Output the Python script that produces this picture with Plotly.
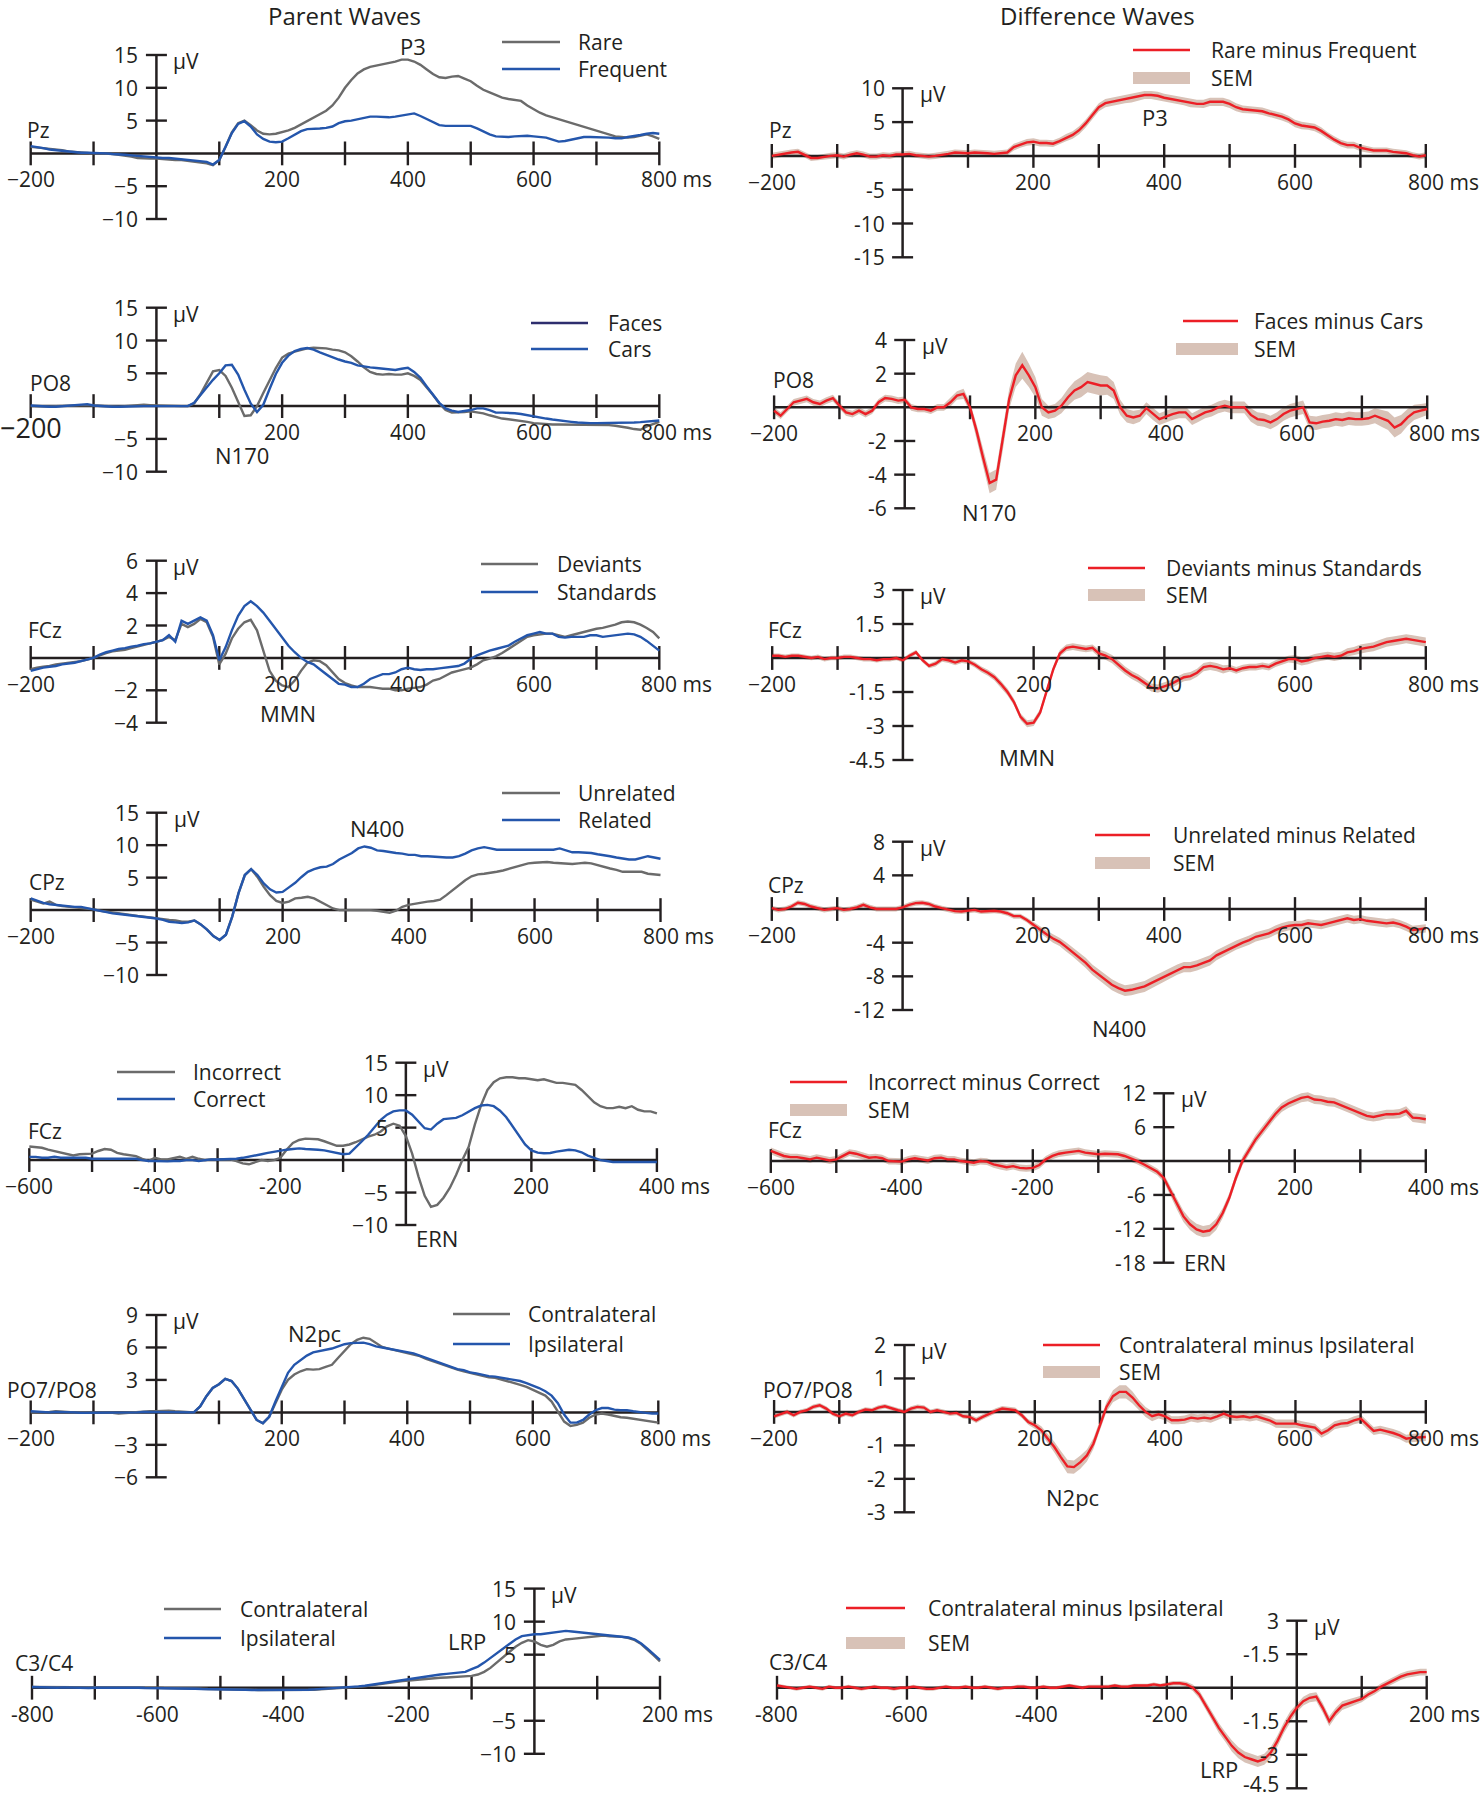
import plotly.graph_objects as go

W, H = 1483, 1800
FONT = "Open Sans, Noto Sans, Liberation Sans, Arial, sans-serif"
INK = "#231f20"
GRAY = "#6b6b6b"
BLUE = "#2456ac"
NAVY = "#2e2e6e"
RED = "#ec1f26"
SEMC = "#d8c2b7"

# ---------------- time grids (ms) ----------------
t_std = list(range(-200, 801, 10))
t_ern = list(range(-600, 401, 10))
t_lrp = list(range(-800, 201, 10))

# ---------------- Row 1: P3 (Pz) ----------------
p3_rare = [
 1.0, 0.9, 0.9, 0.8, 0.7, 0.5, 0.3, 0.2, 0.1, 0.1,
 0.0, 0.0, 0.0, -0.1, -0.2, -0.3, -0.5, -0.7, -0.8, -0.8,
 -0.8, -0.9, -0.9, -1.0, -1.0, -1.1, -1.2, -1.3, -1.5, -1.8,
 -1.0, 1.0, 3.2, 4.6, 5.0, 4.3, 3.5, 3.0, 2.9, 3.0,
 3.2, 3.5, 3.9, 4.4, 5.0, 5.4, 5.9, 6.5, 7.3, 8.5,
 10.0, 11.2, 12.2, 12.8, 13.2, 13.4, 13.5, 13.7, 14.0, 14.3,
 14.3, 14.0, 13.5, 12.8, 12.1, 11.6, 11.5, 11.7, 11.8, 11.4,
 11.0, 10.3, 9.7, 9.3, 8.9, 8.5, 8.3, 8.1, 8.0, 7.3,
 6.7, 6.2, 5.8, 5.5, 5.3, 4.9, 4.6, 4.3, 4.0, 3.7,
 3.5, 3.2, 2.9, 2.6, 2.5, 2.4, 2.5, 2.7, 2.9, 2.6,
 2.2]
p3_frequent = [
 1.1, 1.0, 0.8, 0.6, 0.5, 0.35, 0.2, 0.1, 0.1, 0.1,
 0.1, 0.0, 0.0, -0.1, -0.1, -0.2, -0.3, -0.4, -0.5, -0.5,
 -0.6, -0.7, -0.7, -0.8, -0.8, -0.9, -1.0, -1.1, -1.3, -1.7,
 -1.0, 1.0, 3.1, 4.5, 4.9, 4.1, 2.9, 2.2, 1.8, 1.7,
 1.8, 2.3, 2.9, 3.4, 3.7, 3.7, 3.8, 3.9, 4.1, 4.6,
 4.9, 5.0, 5.2, 5.4, 5.6, 5.6, 5.5, 5.5, 5.6, 5.8,
 6.0, 6.1, 5.7, 5.2, 4.7, 4.3, 4.2, 4.2, 4.3, 4.2,
 4.2, 3.8, 3.3, 2.9, 2.6, 2.5, 2.5, 2.6, 2.7, 2.7,
 2.6, 2.5, 2.4, 2.1, 1.8, 1.9, 2.1, 2.3, 2.5, 2.5,
 2.5, 2.5, 2.4, 2.3, 2.3, 2.5, 2.6, 2.8, 3.0, 3.1,
 3.0]
p3_diff = [
 0.0, 0.2, 0.4, 0.5, 0.6, 0.2, -0.3, -0.3, -0.1, 0.0,
 0.1, -0.1, 0.2, 0.4, 0.2, -0.1, -0.1, 0.1, 0.0, 0.2,
 0.2, 0.3, 0.1, 0.0, -0.1, 0.0, 0.1, 0.3, 0.5, 0.4,
 0.4, 0.5, 0.5, 0.4, 0.3, 0.4, 0.5, 1.3, 1.7, 2.0,
 2.1, 1.9, 1.9, 1.8, 2.2, 2.7, 3.1, 3.8, 4.8, 6.0,
 7.2, 7.8, 8.0, 8.2, 8.4, 8.5, 8.7, 9.0, 9.0, 8.9,
 8.6, 8.4, 8.3, 8.1, 7.8, 7.7, 7.7, 8.0, 8.0, 8.0,
 7.7, 7.2, 6.9, 6.8, 6.8, 6.6, 6.3, 6.1, 5.8, 5.4,
 4.8, 4.5, 4.4, 4.2, 3.7, 3.0, 2.4, 1.9, 1.6, 1.6,
 1.2, 1.0, 0.8, 0.8, 0.8, 0.6, 0.5, 0.4, 0.1, -0.1,
 0.1]
p3_sem = [
 0.45, 0.45, 0.45, 0.45, 0.45, 0.45, 0.45, 0.45, 0.45, 0.45,
 0.45, 0.45, 0.45, 0.45, 0.45, 0.45, 0.45, 0.45, 0.45, 0.45,
 0.45, 0.45, 0.45, 0.45, 0.45, 0.45, 0.45, 0.45, 0.45, 0.45,
 0.45, 0.45, 0.45, 0.45, 0.45, 0.45, 0.45, 0.5, 0.5, 0.5,
 0.5, 0.5, 0.5, 0.5, 0.5, 0.55, 0.55, 0.6, 0.6, 0.6,
 0.6, 0.6, 0.6, 0.6, 0.6, 0.6, 0.6, 0.6, 0.6, 0.6,
 0.6, 0.6, 0.6, 0.6, 0.6, 0.6, 0.6, 0.6, 0.6, 0.6,
 0.6, 0.6, 0.55, 0.55, 0.55, 0.55, 0.55, 0.55, 0.55, 0.55,
 0.55, 0.55, 0.55, 0.55, 0.55, 0.5, 0.5, 0.5, 0.5, 0.5,
 0.5, 0.5, 0.45, 0.45, 0.45, 0.45, 0.45, 0.45, 0.45, 0.45,
 0.45]

# ---------------- Row 2: N170 (PO8) ----------------
n170_faces = [
 0.0, -0.05, -0.1, -0.05, 0.0, 0.05, 0.1, 0.15, 0.2, 0.15,
 0.1, 0.05, 0.0, -0.05, -0.1, 0.0, 0.1, 0.15, 0.2, 0.15,
 0.1, 0.05, 0.0, 0.0, 0.0, 0.0, 0.4, 1.8, 3.6, 5.3,
 5.5, 4.6, 2.8, 0.6, -1.5, -1.4, 0.0, 2.0, 4.0, 5.8,
 7.4, 8.0, 8.3, 8.6, 8.8, 8.9, 8.9, 8.8, 8.6, 8.5,
 8.2, 7.6, 6.8, 5.9, 5.2, 4.9, 4.8, 4.9, 4.8, 4.8,
 5.0, 4.6, 4.0, 2.9, 1.7, 0.4, -0.6, -1.0, -1.0, -0.9,
 -0.8, -0.9, -1.1, -1.4, -1.7, -1.9, -2.0, -2.1, -2.2, -2.4,
 -2.6, -2.7, -2.8, -2.8, -2.8, -2.8, -2.8, -2.8, -2.8, -2.8,
 -2.8, -2.8, -2.9, -3.0, -3.1, -3.3, -3.5, -3.6, -3.1, -2.7,
 -2.4]
n170_cars = [
 0.1, 0.0, -0.1, -0.1, -0.1, 0.0, 0.1, 0.2, 0.3, 0.3,
 0.1, 0.0, -0.1, -0.1, -0.1, -0.05, 0.0, 0.0, 0.0, 0.0,
 0.0, 0.0, 0.0, 0.05, 0.1, 0.0, 0.5, 1.7, 2.9, 4.0,
 5.0, 6.2, 6.3, 4.8, 2.5, 0.4, -0.9, 0.2, 2.6, 4.9,
 6.6, 7.7, 8.4, 8.7, 8.85, 8.6, 8.2, 7.8, 7.5, 7.1,
 6.8, 6.6, 6.2, 6.0, 5.9, 5.8, 5.7, 5.7, 5.5, 5.7,
 5.85, 5.2, 4.3, 3.0, 1.7, 0.5, -0.35, -0.7, -0.9, -0.8,
 -0.6, -0.35, -0.35, -0.6, -1.0, -1.0, -1.0, -1.1, -1.2, -1.4,
 -1.6, -1.75, -1.9, -2.05, -2.2, -2.3, -2.4, -2.5, -2.6, -2.6,
 -2.6, -2.6, -2.6, -2.6, -2.6, -2.55, -2.5, -2.45, -2.4, -2.3,
 -2.2]
n170_diff = [
 -0.2, -0.5, -0.1, 0.3, 0.4, 0.5, 0.3, 0.2, 0.4, 0.55,
 0.1, -0.3, -0.4, -0.2, -0.4, -0.2, 0.3, 0.55, 0.5, 0.4,
 0.45, 0.0, -0.1, -0.1, -0.2, 0.0, 0.0, 0.3, 0.7, 0.8,
 0.0, -1.4, -3.0, -4.5, -4.3, -2.0, 0.5, 1.9, 2.5, 1.9,
 1.2, 0.0, -0.3, -0.2, 0.1, 0.6, 1.0, 1.2, 1.5, 1.4,
 1.3, 1.3, 1.0, 0.0, -0.5, -0.6, -0.5, -0.05, -0.4, -0.7,
 -0.55, -0.4, -0.3, -0.3, -0.7, -0.5, -0.3, -0.2, 0.0, 0.1,
 0.0, 0.0, 0.0, -0.45, -0.7, -0.75, -0.9, -0.7, -0.4, -0.2,
 -0.1, 0.0, -0.9, -0.95, -0.85, -0.8, -0.7, -0.75, -0.65, -0.7,
 -0.7, -0.65, -0.5, -0.65, -0.8, -1.2, -1.0, -0.6, -0.3, -0.2,
 -0.1]
n170_sem = [
 0.2, 0.2, 0.2, 0.2, 0.2, 0.2, 0.2, 0.2, 0.2, 0.2,
 0.2, 0.2, 0.2, 0.2, 0.2, 0.2, 0.2, 0.2, 0.2, 0.2,
 0.2, 0.2, 0.2, 0.2, 0.2, 0.2, 0.2, 0.25, 0.25, 0.3,
 0.3, 0.4, 0.5, 0.6, 0.6, 0.6, 0.6, 0.7, 0.8, 0.7,
 0.6, 0.5, 0.4, 0.4, 0.45, 0.5, 0.55, 0.6, 0.6, 0.6,
 0.6, 0.55, 0.5, 0.45, 0.4, 0.4, 0.35, 0.35, 0.35, 0.35,
 0.35, 0.35, 0.35, 0.35, 0.35, 0.35, 0.35, 0.35, 0.35, 0.35,
 0.35, 0.35, 0.35, 0.4, 0.4, 0.4, 0.4, 0.4, 0.4, 0.4,
 0.4, 0.4, 0.4, 0.4, 0.4, 0.4, 0.4, 0.4, 0.4, 0.4,
 0.4, 0.4, 0.45, 0.5, 0.55, 0.6, 0.55, 0.5, 0.45, 0.4,
 0.35]

# ---------------- Row 3: MMN (FCz) ----------------
mmn_deviants = [
 -0.7, -0.6, -0.55, -0.5, -0.4, -0.35, -0.3, -0.25, -0.2, -0.1,
 0.0, 0.15, 0.3, 0.4, 0.45, 0.5, 0.6, 0.7, 0.8, 0.9,
 1.0, 1.1, 1.3, 1.1, 2.1, 1.9, 2.1, 2.4, 2.2, 1.3,
 -0.4, 0.25, 1.2, 1.8, 2.2, 2.35, 1.7, 0.45, -0.8, -1.4,
 -1.7, -1.8, -1.4, -0.8, -0.3, -0.15, -0.2, -0.45, -0.9, -1.3,
 -1.55, -1.7, -1.8, -1.8, -1.8, -1.85, -1.9, -1.9, -2.0, -2.0,
 -1.9, -1.85, -1.8, -1.65, -1.4, -1.3, -1.1, -0.9, -0.8, -0.7,
 -0.6, -0.4, -0.15, -0.05, 0.1, 0.3, 0.55, 0.75, 1.05, 1.3,
 1.4, 1.45, 1.5, 1.5, 1.4, 1.3, 1.4, 1.5, 1.6, 1.7,
 1.8, 1.85, 1.95, 2.05, 2.2, 2.25, 2.2, 2.05, 1.85, 1.6,
 1.2]
mmn_standards = [
 -0.8, -0.7, -0.6, -0.55, -0.5, -0.4, -0.35, -0.3, -0.2, -0.1,
 0.0, 0.2, 0.35, 0.45, 0.55, 0.6, 0.7, 0.75, 0.85, 0.9,
 1.0, 1.1, 1.4, 1.0, 2.3, 2.1, 2.3, 2.5, 2.3, 1.4,
 -0.15, 0.65, 1.7, 2.6, 3.2, 3.5, 3.2, 2.8, 2.3, 1.8,
 1.3, 0.75, 0.35, 0.0, -0.25, -0.4, -0.7, -1.0, -1.3, -1.6,
 -1.65, -1.8, -1.8, -1.6, -1.3, -1.15, -1.0, -1.0, -0.9, -0.7,
 -0.6, -0.7, -0.75, -0.7, -0.7, -0.65, -0.6, -0.55, -0.5, -0.35,
 -0.05, 0.15, 0.3, 0.45, 0.55, 0.65, 0.75, 1.0, 1.2, 1.4,
 1.5, 1.6, 1.5, 1.5, 1.3, 1.25, 1.3, 1.3, 1.3, 1.4,
 1.4, 1.3, 1.35, 1.4, 1.45, 1.5, 1.45, 1.3, 1.05, 0.75,
 0.45]
mmn_diff = [
 0.1, 0.1, 0.05, 0.1, 0.1, 0.05, 0.0, 0.05, -0.05, 0.0,
 0.0, 0.05, 0.05, 0.0, -0.05, -0.05, -0.1, -0.05, -0.05, 0.0,
 -0.1, 0.1, 0.25, -0.1, -0.35, -0.25, -0.05, -0.1, -0.2, -0.1,
 -0.15, -0.3, -0.5, -0.65, -0.85, -1.15, -1.5, -1.95, -2.6, -2.9,
 -2.85, -2.4, -1.45, -0.5, 0.2, 0.45, 0.5, 0.45, 0.4, 0.45,
 0.2, 0.1, -0.05, -0.3, -0.55, -0.75, -0.9, -1.1, -1.3, -1.35,
 -1.25, -1.15, -1.0, -0.85, -0.8, -0.65, -0.4, -0.35, -0.4, -0.5,
 -0.45, -0.55, -0.45, -0.4, -0.4, -0.35, -0.4, -0.25, -0.15, -0.05,
 -0.05, -0.15, -0.1, 0.0, 0.05, 0.1, 0.05, 0.1, 0.25, 0.3,
 0.4, 0.45, 0.5, 0.6, 0.7, 0.75, 0.8, 0.85, 0.8, 0.75,
 0.7]
mmn_sem = [
 0.1, 0.1, 0.1, 0.1, 0.1, 0.1, 0.1, 0.1, 0.1, 0.1,
 0.1, 0.1, 0.1, 0.1, 0.1, 0.1, 0.1, 0.1, 0.1, 0.1,
 0.1, 0.1, 0.1, 0.1, 0.1, 0.12, 0.12, 0.12, 0.12, 0.12,
 0.12, 0.12, 0.13, 0.13, 0.14, 0.15, 0.15, 0.15, 0.15, 0.15,
 0.15, 0.15, 0.15, 0.15, 0.15, 0.15, 0.15, 0.15, 0.15, 0.15,
 0.18, 0.18, 0.18, 0.18, 0.18, 0.18, 0.18, 0.18, 0.18, 0.18,
 0.18, 0.18, 0.18, 0.18, 0.18, 0.18, 0.18, 0.18, 0.18, 0.18,
 0.15, 0.15, 0.15, 0.15, 0.15, 0.15, 0.15, 0.15, 0.15, 0.15,
 0.18, 0.18, 0.18, 0.18, 0.18, 0.18, 0.18, 0.18, 0.18, 0.18,
 0.2, 0.2, 0.2, 0.2, 0.2, 0.2, 0.2, 0.2, 0.2, 0.2,
 0.2]

# ---------------- Row 4: N400 (CPz) ----------------
n400_unrelated = [
 1.6, 1.3, 1.0, 1.3, 0.8, 0.6, 0.5, 0.45, 0.4, 0.25,
 0.1, -0.1, -0.25, -0.4, -0.5, -0.65, -0.8, -0.9, -1.0, -1.15,
 -1.3, -1.4, -1.5, -1.6, -1.8, -1.8, -1.6, -2.2, -3.0, -4.0,
 -4.6, -3.8, -1.0, 2.6, 5.4, 6.3, 5.1, 3.6, 2.3, 1.4,
 1.1, 1.3, 1.8, 1.9, 2.05, 1.8, 1.3, 0.8, 0.25, 0.0,
 0.0, 0.1, 0.0, 0.0, 0.0, -0.1, -0.25, -0.4, -0.1, 0.5,
 0.8, 1.0, 1.1, 1.3, 1.4, 1.6, 2.3, 3.1, 3.8, 4.6,
 5.2, 5.5, 5.6, 5.7, 5.9, 6.1, 6.4, 6.7, 6.9, 7.2,
 7.3, 7.4, 7.4, 7.3, 7.2, 7.1, 7.1, 7.2, 7.3, 7.2,
 6.9, 6.7, 6.4, 6.2, 5.9, 5.9, 5.9, 5.9, 5.6, 5.5,
 5.4]
n400_related = [
 1.8, 1.4, 1.1, 0.9, 0.8, 0.6, 0.5, 0.5, 0.5, 0.3,
 0.1, -0.15, -0.4, -0.5, -0.6, -0.7, -0.8, -0.9, -1.0, -1.15,
 -1.3, -1.5, -1.8, -1.9, -2.0, -1.9, -1.6, -2.2, -3.0, -4.0,
 -4.6, -3.8, -1.0, 2.6, 5.4, 6.3, 5.4, 4.1, 3.2, 2.7,
 2.8, 3.5, 4.2, 5.1, 5.9, 6.3, 6.6, 6.7, 7.1, 7.8,
 8.3, 8.8, 9.5, 9.8, 9.6, 9.2, 9.1, 8.9, 8.8, 8.7,
 8.5, 8.5, 8.3, 8.3, 8.2, 8.2, 8.1, 8.1, 8.3, 8.7,
 9.2, 9.5, 9.7, 9.5, 9.3, 9.3, 9.3, 9.2, 9.3, 9.3,
 9.3, 9.2, 9.2, 9.3, 9.5, 9.2, 8.9, 8.9, 8.9, 8.8,
 8.6, 8.5, 8.3, 8.1, 7.9, 7.8, 7.8, 8.1, 8.3, 8.1,
 7.9]
n400_diff = [
 0.1, -0.1, 0.0, 0.3, 0.75, 0.6, 0.3, 0.1, -0.1, 0.0,
 0.1, -0.1, 0.0, 0.2, 0.5, 0.2, 0.0, 0.0, 0.0, 0.0,
 0.2, 0.5, 0.7, 0.75, 0.6, 0.3, 0.1, -0.1, -0.25, -0.3,
 -0.2, -0.1, -0.3, -0.25, -0.2, -0.3, -0.5, -0.85, -0.85, -1.3,
 -1.9, -2.4, -3.0, -3.5, -3.9, -4.5, -5.1, -5.7, -6.4, -7.2,
 -7.8, -8.4, -9.0, -9.4, -9.7, -9.6, -9.4, -9.2, -8.8, -8.4,
 -8.0, -7.6, -7.2, -6.9, -6.9, -6.7, -6.4, -6.1, -5.5, -5.1,
 -4.7, -4.3, -4.0, -3.7, -3.3, -3.1, -2.9, -2.5, -2.2, -2.0,
 -1.9, -1.9, -1.7, -1.8, -1.9, -1.7, -1.5, -1.3, -1.1, -1.3,
 -1.2, -1.4, -1.5, -1.6, -1.7, -1.6, -1.8, -2.1, -2.5, -2.4,
 -2.3]
n400_sem = [
 0.3, 0.3, 0.3, 0.3, 0.3, 0.3, 0.3, 0.3, 0.3, 0.3,
 0.3, 0.3, 0.3, 0.3, 0.3, 0.3, 0.3, 0.3, 0.3, 0.3,
 0.3, 0.3, 0.3, 0.3, 0.3, 0.3, 0.3, 0.3, 0.3, 0.3,
 0.3, 0.3, 0.3, 0.3, 0.3, 0.3, 0.3, 0.3, 0.3, 0.3,
 0.35, 0.4, 0.45, 0.5, 0.5, 0.55, 0.55, 0.6, 0.6, 0.6,
 0.65, 0.65, 0.65, 0.65, 0.65, 0.65, 0.65, 0.65, 0.65, 0.65,
 0.6, 0.6, 0.6, 0.6, 0.6, 0.6, 0.6, 0.6, 0.6, 0.6,
 0.55, 0.55, 0.55, 0.55, 0.55, 0.55, 0.55, 0.55, 0.55, 0.55,
 0.5, 0.5, 0.5, 0.5, 0.5, 0.5, 0.5, 0.5, 0.5, 0.5,
 0.5, 0.5, 0.5, 0.5, 0.5, 0.5, 0.5, 0.5, 0.5, 0.5,
 0.5]

# ---------------- Row 5: ERN (FCz, response-locked) ----------------
ern_incorrect = [
 2.1, 2.0, 1.9, 1.6, 1.4, 1.1, 0.9, 0.7, 0.9, 0.9,
 1.0, 1.4, 1.7, 1.6, 1.1, 0.9, 0.7, 0.6, 0.2, -0.15,
 0.35, 0.1, 0.1, 0.35, 0.5, 0.2, 0.5, 0.2, 0.0, 0.1,
 0.1, 0.2, 0.1, -0.15, -0.5, -0.65, -0.3, 0.0, -0.15, 0.0,
 0.35, 1.6, 2.65, 3.1, 3.3, 3.3, 3.2, 2.9, 2.55, 2.2,
 2.2, 2.4, 2.75, 3.2, 3.6, 3.9, 4.4, 5.2, 5.6, 5.3,
 3.7, 1.0, -2.5, -5.5, -7.2, -6.9, -5.8, -4.3, -2.3, 0.0,
 2.0, 5.5, 8.5, 10.8, 12.0, 12.6, 12.75, 12.75, 12.6, 12.6,
 12.45, 12.3, 12.45, 12.2, 11.9, 11.9, 11.8, 11.6, 10.8, 9.8,
 8.9, 8.3, 8.0, 8.0, 8.2, 8.0, 8.3, 7.75, 7.5, 7.5,
 7.2]
ern_correct = [
 0.5, 0.5, 0.35, 0.35, 0.5, 0.35, 0.35, 0.35, 0.35, 0.35,
 0.2, 0.2, 0.2, 0.2, 0.2, 0.2, 0.2, 0.2, 0.0, -0.15,
 -0.15, -0.2, -0.2, -0.15, -0.15, 0.0, 0.0, -0.15, 0.0, 0.1,
 0.1, 0.1, 0.1, 0.2, 0.35, 0.5, 0.7, 0.9, 1.1, 1.3,
 1.5, 1.6, 1.7, 1.8, 1.7, 1.7, 1.6, 1.5, 1.3, 1.1,
 0.9, 1.0, 1.9, 2.9, 3.9, 5.1, 6.2, 7.0, 7.5, 7.65,
 7.65, 7.0, 6.0, 4.9, 4.7, 5.6, 6.3, 6.4, 6.5, 6.9,
 7.5, 8.0, 8.4, 8.5, 8.3, 7.6, 6.6, 5.2, 3.8, 2.4,
 1.5, 1.15, 1.05, 1.1, 1.3, 1.5, 1.6, 1.5, 1.2, 0.7,
 0.3, 0.0, -0.15, -0.3, -0.3, -0.3, -0.3, -0.3, -0.3, -0.3,
 -0.3]
ern_diff = [
 1.8, 1.3, 0.9, 0.7, 0.7, 0.5, 0.3, 0.6, 0.3, 0.1,
 0.3, 0.9, 1.5, 1.3, 0.9, 0.6, 0.7, 0.5, 0.0, 0.0,
 -0.1, 0.3, 0.5, 0.3, 0.1, 0.5, 0.6, 0.3, 0.3, 0.0,
 -0.1, -0.3, 0.0, -0.1, -0.6, -0.9, -1.1, -0.9, -1.2, -1.3,
 -1.2, -0.7, 0.3, 0.9, 1.3, 1.5, 1.65, 1.8, 1.5, 1.3,
 1.2, 1.3, 1.3, 1.2, 0.9, 0.5, 0.0, -0.6, -1.2, -1.9,
 -3.0, -5.3, -7.7, -9.8, -11.2, -12.1, -12.5, -12.3, -11.2, -9.2,
 -6.5, -3.0, 0.0, 1.9, 3.8, 5.3, 6.8, 8.3, 9.5, 10.2,
 10.7, 11.2, 11.4, 10.9, 10.8, 10.5, 10.4, 9.9, 9.5, 9.0,
 8.4, 8.0, 7.8, 8.0, 8.3, 8.3, 8.4, 8.9, 7.7, 7.6,
 7.4]
ern_sem = [
 0.6, 0.6, 0.6, 0.6, 0.6, 0.6, 0.6, 0.6, 0.6, 0.6,
 0.6, 0.6, 0.6, 0.6, 0.6, 0.6, 0.6, 0.6, 0.6, 0.6,
 0.6, 0.6, 0.6, 0.6, 0.6, 0.6, 0.6, 0.6, 0.6, 0.6,
 0.6, 0.6, 0.6, 0.6, 0.6, 0.6, 0.6, 0.6, 0.6, 0.6,
 0.6, 0.6, 0.6, 0.6, 0.6, 0.6, 0.6, 0.6, 0.6, 0.6,
 0.6, 0.6, 0.6, 0.6, 0.6, 0.6, 0.6, 0.6, 0.6, 0.6,
 0.7, 0.8, 0.9, 1.0, 1.0, 1.0, 1.0, 1.0, 1.0, 0.9,
 0.8, 0.8, 0.8, 0.8, 0.8, 0.8, 0.8, 0.8, 0.8, 0.8,
 0.8, 0.8, 0.8, 0.8, 0.8, 0.8, 0.8, 0.8, 0.8, 0.8,
 0.8, 0.8, 0.8, 0.8, 0.8, 0.8, 0.8, 0.8, 0.8, 0.8,
 0.8]

# ---------------- Row 6: N2pc (PO7/PO8) ----------------
n2pc_contra = [
 0.0, 0.0, 0.0, 0.05, 0.1, 0.05, 0.0, 0.0, 0.0, 0.0,
 -0.05, -0.05, 0.0, -0.05, -0.1, -0.05, 0.0, 0.05, 0.05, 0.1,
 0.1, 0.15, 0.15, 0.1, 0.05, 0.0, 0.0, 0.55, 1.5, 2.25,
 2.6, 3.1, 2.9, 2.2, 1.2, 0.2, -0.7, -1.0, -0.4, 0.85,
 2.1, 3.0, 3.5, 3.8, 4.0, 3.95, 4.0, 4.2, 4.4, 5.05,
 5.65, 6.3, 6.7, 6.9, 6.8, 6.4, 6.05, 5.9, 5.75, 5.65,
 5.5, 5.35, 5.2, 4.95, 4.75, 4.5, 4.35, 4.1, 3.95, 3.8,
 3.65, 3.5, 3.35, 3.25, 3.2, 3.05, 2.9, 2.7, 2.55, 2.35,
 2.1, 1.85, 1.55, 1.0, 0.1, -0.85, -1.25, -1.15, -0.95, -0.5,
 -0.2, -0.1, -0.2, -0.35, -0.45, -0.5, -0.6, -0.7, -0.75, -0.85,
 -0.95]
n2pc_ipsi = [
 0.1, 0.05, 0.0, 0.0, 0.05, 0.05, 0.0, 0.0, -0.05, -0.05,
 0.0, 0.0, 0.0, -0.05, -0.05, 0.0, 0.0, 0.0, 0.05, 0.05,
 0.05, 0.05, 0.05, 0.05, 0.0, 0.0, 0.0, 0.55, 1.5, 2.25,
 2.6, 3.1, 2.9, 2.2, 1.2, 0.2, -0.7, -1.0, -0.4, 1.0,
 2.4, 3.65, 4.4, 4.8, 5.25, 5.55, 5.65, 5.75, 5.9, 6.1,
 6.3, 6.4, 6.4, 6.45, 6.3, 6.1, 6.0, 5.9, 5.8, 5.65,
 5.55, 5.45, 5.25, 5.05, 4.85, 4.65, 4.4, 4.2, 4.0, 3.9,
 3.7, 3.6, 3.45, 3.35, 3.3, 3.2, 3.1, 2.95, 2.9, 2.7,
 2.5, 2.25, 1.95, 1.55, 0.85, -0.2, -0.95, -0.95, -0.7, -0.2,
 0.2, 0.4, 0.4, 0.25, 0.2, 0.2, 0.1, 0.0, -0.05, -0.1,
 -0.1]
n2pc_diff = [
 -0.13, -0.07, 0.0, -0.1, 0.0, 0.05, 0.15, 0.2, 0.1, -0.05,
 -0.13, -0.05, -0.1, 0.0, 0.07, 0.05, 0.13, 0.17, 0.1, 0.05,
 0.0, 0.1, 0.15, 0.13, 0.0, 0.05, 0.0, -0.05, -0.03, -0.13,
 -0.15, -0.25, -0.15, -0.05, 0.03, 0.1, 0.07, 0.05, -0.1, -0.3,
 -0.4, -0.55, -0.8, -1.05, -1.35, -1.63, -1.65, -1.5, -1.3, -0.95,
 -0.4, 0.15, 0.47, 0.6, 0.6, 0.43, 0.2, 0.0, -0.13, -0.07,
 -0.13, -0.25, -0.25, -0.23, -0.17, -0.2, -0.17, -0.2, -0.13, -0.05,
 -0.13, -0.15, -0.13, -0.17, -0.13, -0.2, -0.25, -0.35, -0.35, -0.37,
 -0.35, -0.4, -0.43, -0.47, -0.65, -0.55, -0.4, -0.35, -0.33, -0.25,
 -0.2, -0.4, -0.57, -0.53, -0.57, -0.63, -0.7, -0.8, -0.77, -0.77,
 -0.75]
n2pc_sem = [
 0.07, 0.07, 0.07, 0.07, 0.07, 0.07, 0.07, 0.07, 0.07, 0.07,
 0.07, 0.07, 0.07, 0.07, 0.07, 0.07, 0.07, 0.07, 0.07, 0.07,
 0.07, 0.07, 0.07, 0.07, 0.07, 0.07, 0.07, 0.07, 0.07, 0.07,
 0.08, 0.08, 0.08, 0.08, 0.08, 0.08, 0.08, 0.08, 0.08, 0.08,
 0.1, 0.12, 0.14, 0.16, 0.18, 0.2, 0.2, 0.2, 0.18, 0.16,
 0.15, 0.15, 0.18, 0.2, 0.2, 0.18, 0.15, 0.15, 0.15, 0.13,
 0.12, 0.12, 0.12, 0.12, 0.12, 0.12, 0.12, 0.12, 0.12, 0.12,
 0.12, 0.12, 0.12, 0.12, 0.12, 0.12, 0.12, 0.12, 0.12, 0.12,
 0.12, 0.12, 0.12, 0.12, 0.12, 0.12, 0.12, 0.12, 0.12, 0.12,
 0.12, 0.12, 0.12, 0.12, 0.12, 0.12, 0.12, 0.12, 0.12, 0.12,
 0.12]

# ---------------- Row 7: LRP (C3/C4, response-locked) ----------------
lrp_contra = [
 0.1, 0.1, 0.05, 0.05, 0.0, 0.0, 0.05, 0.0, 0.0, 0.0,
 0.0, 0.0, 0.05, 0.1, 0.1, 0.05, 0.0, 0.0, 0.0, 0.0,
 0.0, -0.05, -0.05, -0.1, -0.1, -0.1, -0.15, -0.15, -0.2, -0.2,
 -0.2, -0.25, -0.25, -0.3, -0.3, -0.3, -0.35, -0.35, -0.4, -0.4,
 -0.4, -0.4, -0.35, -0.35, -0.3, -0.3, -0.25, -0.2, -0.15, -0.1,
 -0.05, 0.0, 0.1, 0.2, 0.35, 0.5, 0.6, 0.75, 0.9, 1.0,
 1.1, 1.2, 1.3, 1.4, 1.45, 1.5, 1.55, 1.6, 1.65, 1.7,
 1.8, 2.0, 2.4, 3.0, 3.8, 4.7, 5.5, 6.2, 6.8, 7.2,
 7.0, 6.5, 6.2, 6.5, 7.0, 7.3, 7.4, 7.5, 7.6, 7.8,
 7.9, 7.9, 7.8, 7.8, 7.7, 7.5, 7.2, 6.6, 5.8, 4.9,
 4.0]
lrp_ipsi = [
 0.1, 0.05, 0.05, 0.0, 0.0, 0.05, 0.0, 0.0, 0.0, -0.05,
 0.0, 0.0, 0.05, 0.05, 0.1, 0.05, 0.0, 0.0, -0.05, -0.05,
 -0.05, -0.05, -0.1, -0.1, -0.1, -0.15, -0.15, -0.2, -0.2, -0.2,
 -0.25, -0.25, -0.3, -0.3, -0.3, -0.35, -0.35, -0.4, -0.4, -0.4,
 -0.4, -0.35, -0.35, -0.3, -0.3, -0.25, -0.2, -0.15, -0.1, -0.05,
 0.0, 0.1, 0.2, 0.3, 0.45, 0.6, 0.75, 0.9, 1.05, 1.15,
 1.3, 1.4, 1.6, 1.75, 1.9, 2.0, 2.1, 2.2, 2.3, 2.4,
 2.8, 3.2, 3.8, 4.5, 5.3, 6.0, 6.7, 7.3, 7.8, 8.0,
 8.1, 8.1, 8.2, 8.4, 8.5, 8.6, 8.5, 8.4, 8.3, 8.3,
 8.2, 8.0, 7.9, 7.9, 7.8, 7.6, 7.3, 6.7, 5.9, 5.0,
 4.2]
lrp_diff = [
 0.1, 0.05, 0.0, -0.05, 0.0, 0.05, 0.0, -0.05, 0.05, 0.0,
 0.0, 0.05, 0.0, -0.05, 0.0, 0.05, 0.0, 0.0, -0.05, 0.0,
 0.0, 0.05, 0.0, -0.05, -0.05, 0.0, 0.05, 0.0, 0.0, 0.05,
 0.0, 0.0, 0.05, 0.0, -0.05, 0.0, 0.0, 0.05, 0.05, 0.0,
 0.0, 0.05, 0.0, 0.0, 0.05, 0.1, 0.05, 0.0, 0.05, 0.05,
 0.05, 0.05, 0.1, 0.05, 0.05, 0.1, 0.1, 0.1, 0.15, 0.1,
 0.15, 0.2, 0.2, 0.15, 0.0, -0.3, -0.8, -1.3, -1.8, -2.2,
 -2.6, -2.9, -3.1, -3.2, -3.3, -3.2, -2.9, -2.4, -1.8, -1.3,
 -0.9, -0.6, -0.45, -0.4, -0.9, -1.5, -1.1, -0.8, -0.7, -0.6,
 -0.5, -0.3, -0.15, 0.05, 0.2, 0.35, 0.5, 0.6, 0.65, 0.7,
 0.7]
lrp_sem = [
 0.08, 0.08, 0.08, 0.08, 0.08, 0.08, 0.08, 0.08, 0.08, 0.08,
 0.08, 0.08, 0.08, 0.08, 0.08, 0.08, 0.08, 0.08, 0.08, 0.08,
 0.08, 0.08, 0.08, 0.08, 0.08, 0.08, 0.08, 0.08, 0.08, 0.08,
 0.08, 0.08, 0.08, 0.08, 0.08, 0.08, 0.08, 0.08, 0.08, 0.08,
 0.08, 0.08, 0.08, 0.08, 0.08, 0.08, 0.08, 0.08, 0.08, 0.08,
 0.08, 0.08, 0.08, 0.08, 0.08, 0.08, 0.08, 0.08, 0.08, 0.08,
 0.1, 0.1, 0.1, 0.12, 0.15, 0.18, 0.2, 0.2, 0.22, 0.22,
 0.25, 0.25, 0.25, 0.25, 0.25, 0.25, 0.25, 0.25, 0.25, 0.25,
 0.2, 0.2, 0.2, 0.2, 0.22, 0.22, 0.2, 0.2, 0.18, 0.18,
 0.15, 0.15, 0.15, 0.15, 0.15, 0.15, 0.15, 0.15, 0.15, 0.15,
 0.15]

# ---------------- tick labels ----------------
xlab_std = [(-200, "\u2212200"), (200, "200"), (400, "400"), (600, "600"), (800, "800 ms")]
xlab_ern = [(-600, "\u2212600"), (-400, "-400"), (-200, "-200"), (200, "200"), (400, "400 ms")]
xlab_lrp = [(-800, "-800"), (-600, "-600"), (-400, "-400"), (-200, "-200"), (200, "200 ms")]
ylab_15 = [(15, "15"), (10, "10"), (5, "5"), (-5, "\u22125"), (-10, "\u221210")]
ylab_p3d = [(10, "10"), (5, "5"), (-5, "-5"), (-10, "-10"), (-15, "-15")]
ylab_n170d = [(4, "4"), (2, "2"), (-2, "-2"), (-4, "-4"), (-6, "-6")]
ylab_mmn = [(6, "6"), (4, "4"), (2, "2"), (-2, "\u22122"), (-4, "\u22124")]
ylab_mmnd = [(3, "3"), (1.5, "1.5"), (-1.5, "-1.5"), (-3, "-3"), (-4.5, "-4.5")]
ylab_n400d = [(8, "8"), (4, "4"), (-4, "-4"), (-8, "-8"), (-12, "-12")]
ylab_ernd = [(12, "12"), (6, "6"), (-6, "-6"), (-12, "-12"), (-18, "-18")]
ylab_n2pc = [(9, "9"), (6, "6"), (3, "3"), (-3, "\u22123"), (-6, "\u22126")]
ylab_n2pcd = [(2, "2"), (1, "1"), (-1, "-1"), (-2, "-2"), (-3, "-3")]
ylab_lrpd = [(3, "3"), (1.5, "-1.5"), (-1.5, "-1.5"), (-3, "-3"), (-4.5, "-4.5")]

for arr in [p3_rare, p3_frequent, p3_diff, p3_sem, n170_faces, n170_cars, n170_diff, n170_sem,
            mmn_deviants, mmn_standards, mmn_diff, mmn_sem, n400_unrelated, n400_related, n400_diff, n400_sem,
            ern_incorrect, ern_correct, ern_diff, ern_sem, n2pc_contra, n2pc_ipsi, n2pc_diff, n2pc_sem,
            lrp_contra, lrp_ipsi, lrp_diff, lrp_sem]:
    assert len(arr) == 101, len(arr)

# ---------------- figure construction ----------------
fig = go.Figure()
axes_layout = {}
annotations = []
shapes = []
PAD = 8
TS = 21  # tick / legend text size


def make_axes(i, xr, pxr, yr, pyr):
    x0, x1 = xr
    px0, px1 = pxr
    y0, y1 = yr
    pyb, pyt = pyr
    sx = (px1 - px0) / (x1 - x0)
    sy = (pyb - pyt) / (y1 - y0)
    suf = "" if i == 1 else str(i)
    axes_layout["xaxis" + suf] = dict(domain=[(px0 - PAD) / W, (px1 + PAD) / W],
                                      range=[x0 - PAD / sx, x1 + PAD / sx],
                                      visible=False, fixedrange=True, anchor="y" + suf)
    axes_layout["yaxis" + suf] = dict(domain=[1 - (pyb + PAD) / H, 1 - (pyt - PAD) / H],
                                      range=[y0 - PAD / sy, y1 + PAD / sy],
                                      visible=False, fixedrange=True, anchor="x" + suf)
    return "x" + suf, "y" + suf


def txt(size=TS):
    return dict(family=FONT, size=size, color=INK)


def draw_frame(xa, ya, xr, xlabels, ylabels, big_first=False, bottom_lift=0):
    fig.add_trace(go.Scatter(x=[xr[0], xr[1]], y=[0, 0], xaxis=xa, yaxis=ya, mode="lines",
                             line=dict(color=INK, width=2.5), hoverinfo="skip", showlegend=False))
    yvals = [v for v, _ in ylabels]
    fig.add_trace(go.Scatter(x=[0, 0], y=[min(yvals), max(yvals)], xaxis=xa, yaxis=ya, mode="lines",
                             line=dict(color=INK, width=2.5), hoverinfo="skip", showlegend=False))
    xt = [v for v in range(xr[0], xr[1] + 1, 100) if v != 0]
    fig.add_trace(go.Scatter(x=xt, y=[0] * len(xt), xaxis=xa, yaxis=ya, mode="markers",
                             marker=dict(symbol="line-ns", size=17, line=dict(color=INK, width=2.4)),
                             cliponaxis=False, hoverinfo="skip", showlegend=False))
    fig.add_trace(go.Scatter(x=[0] * len(yvals), y=yvals, xaxis=xa, yaxis=ya, mode="markers",
                             marker=dict(symbol="line-ew", size=15, line=dict(color=INK, width=2.4)),
                             cliponaxis=False, hoverinfo="skip", showlegend=False))
    for k, (v, s) in enumerate(xlabels):
        a = dict(x=v, y=0, xref=xa, yref=ya, text=s, showarrow=False, font=txt(),
                 yanchor="middle", yshift=-26)
        if s.endswith("ms"):
            a.update(xanchor="left", xshift=-20)
        else:
            a.update(xanchor="center")
        if big_first and k == 0:
            a.update(font=txt(27), yshift=-21)
        annotations.append(a)
    ymin = min(yvals)
    for v, s in ylabels:
        annotations.append(dict(x=0, y=v, xref=xa, yref=ya, text=s, showarrow=False, font=txt(),
                                xanchor="right", xshift=-16, yanchor="middle",
                                yshift=bottom_lift if v == ymin else 0))
    annotations.append(dict(x=0, y=max(yvals), xref=xa, yref=ya, text="\u03bcV", showarrow=False,
                            font=txt(), xanchor="left", xshift=15, yanchor="middle", yshift=-6))


def line(xa, ya, t, y, color):
    fig.add_trace(go.Scatter(x=t, y=y, xaxis=xa, yaxis=ya, mode="lines",
                             line=dict(color=color, width=2.4), hoverinfo="skip", showlegend=False))


def band(xa, ya, t, y, sem):
    upper = [a + b for a, b in zip(y, sem)]
    lower = [a - b for a, b in zip(y, sem)]
    fig.add_trace(go.Scatter(x=t + t[::-1], y=upper + lower[::-1], xaxis=xa, yaxis=ya,
                             mode="lines", fill="toself", fillcolor=SEMC, line=dict(width=0),
                             hoverinfo="skip", showlegend=False))


def legend(items, text_x):
    for kind, color, xa_px, xb_px, y_px, lab in items:
        if kind == "line":
            shapes.append(dict(type="line", xref="paper", yref="paper",
                               x0=xa_px / W, x1=xb_px / W, y0=1 - y_px / H, y1=1 - y_px / H,
                               line=dict(color=color, width=2.6)))
        else:
            shapes.append(dict(type="rect", xref="paper", yref="paper",
                               x0=xa_px / W, x1=xb_px / W, y0=1 - (y_px + 6) / H, y1=1 - (y_px - 6) / H,
                               fillcolor=color, line=dict(width=0)))
        annotations.append(dict(x=text_x / W, y=1 - y_px / H, xref="paper", yref="paper", text=lab,
                                showarrow=False, font=txt(), xanchor="left", yanchor="middle"))


def label(s, cx, cy, size=22):
    annotations.append(dict(x=cx / W, y=1 - cy / H, xref="paper", yref="paper", text=s,
                            showarrow=False, font=txt(size), xanchor="center", yanchor="middle"))


# Column titles
label("Parent Waves", 344, 16, 24)
label("Difference Waves", 1097, 16, 24)

# --- Row 1 ---
xa, ya = make_axes(1, (-200, 800), (30.7, 659.3), (-10, 15), (219, 55))
draw_frame(xa, ya, (-200, 800), xlab_std, ylab_15)
line(xa, ya, t_std, p3_rare, GRAY)
line(xa, ya, t_std, p3_frequent, BLUE)
legend([("line", GRAY, 502, 560, 42, "Rare"), ("line", BLUE, 502, 560, 69, "Frequent")], 576)
label("Pz", 38, 130, 21)
label("P3", 413, 46)

xa, ya = make_axes(2, (-200, 800), (771.8, 1425.8), (-15, 10), (257.3, 88.3))
band(xa, ya, t_std, p3_diff, p3_sem)
draw_frame(xa, ya, (-200, 800), xlab_std, ylab_p3d)
line(xa, ya, t_std, p3_diff, RED)
legend([("line", RED, 1133, 1190, 50, "Rare minus Frequent"),
        ("band", SEMC, 1133, 1190, 78, "SEM")], 1209)
label("Pz", 780, 130, 21)
label("P3", 1155, 117)

# --- Row 2 ---
xa, ya = make_axes(3, (-200, 800), (30.7, 659.3), (-10, 15), (471.7, 307.7))
draw_frame(xa, ya, (-200, 800), xlab_std, ylab_15, big_first=True)
line(xa, ya, t_std, n170_faces, GRAY)
line(xa, ya, t_std, n170_cars, BLUE)
legend([("line", NAVY, 531, 588, 323, "Faces"), ("line", BLUE, 531, 588, 349, "Cars")], 606)
label("PO8", 50, 383, 21)
label("N170", 242, 455)

xa, ya = make_axes(4, (-200, 800), (774.1, 1427.2), (-6, 4), (508.3, 340))
band(xa, ya, t_std, n170_diff, n170_sem)
draw_frame(xa, ya, (-200, 800), xlab_std, ylab_n170d)
line(xa, ya, t_std, n170_diff, RED)
legend([("line", RED, 1183, 1238, 321, "Faces minus Cars"),
        ("band", SEMC, 1176, 1238, 349, "SEM")], 1252)
label("PO8", 793, 380, 21)
label("N170", 989, 512)

# --- Row 3 ---
xa, ya = make_axes(5, (-200, 800), (30.7, 659.3), (-4, 6), (722.7, 560.7))
draw_frame(xa, ya, (-200, 800), xlab_std, ylab_mmn)
line(xa, ya, t_std, mmn_deviants, GRAY)
line(xa, ya, t_std, mmn_standards, BLUE)
legend([("line", GRAY, 481, 538, 564, "Deviants"), ("line", BLUE, 481, 538, 592, "Standards")], 555)
label("FCz", 45, 630, 21)
label("MMN", 288, 713)

xa, ya = make_axes(6, (-200, 800), (772.2, 1425.8), (-4.5, 3), (760, 590))
band(xa, ya, t_std, mmn_diff, mmn_sem)
draw_frame(xa, ya, (-200, 800), xlab_std, ylab_mmnd)
line(xa, ya, t_std, mmn_diff, RED)
legend([("line", RED, 1088, 1145, 568, "Deviants minus Standards"),
        ("band", SEMC, 1088, 1145, 595, "SEM")], 1164)
label("FCz", 785, 630, 21)
label("MMN", 1027, 757)

# --- Row 4 ---
xa, ya = make_axes(7, (-200, 800), (30.7, 660.5), (-10, 15), (975, 812.7))
draw_frame(xa, ya, (-200, 800), xlab_std, ylab_15)
line(xa, ya, t_std, n400_unrelated, GRAY)
line(xa, ya, t_std, n400_related, BLUE)
legend([("line", GRAY, 502, 560, 793, "Unrelated"), ("line", BLUE, 502, 560, 820, "Related")], 576)
label("CPz", 47, 882, 21)
label("N400", 377, 828)

xa, ya = make_axes(8, (-200, 800), (771.8, 1425.8), (-12, 8), (1010, 841.7))
band(xa, ya, t_std, n400_diff, n400_sem)
draw_frame(xa, ya, (-200, 800), xlab_std, ylab_n400d)
line(xa, ya, t_std, n400_diff, RED)
legend([("line", RED, 1095, 1150, 835, "Unrelated minus Related"),
        ("band", SEMC, 1095, 1150, 863, "SEM")], 1171)
label("CPz", 786, 885, 21)
label("N400", 1119, 1028)

# --- Row 5 ---
xa, ya = make_axes(9, (-600, 400), (29.3, 656.9), (-10, 15), (1225, 1062.7))
draw_frame(xa, ya, (-600, 400), xlab_ern, ylab_15)
line(xa, ya, t_ern, ern_incorrect, GRAY)
line(xa, ya, t_ern, ern_correct, BLUE)
legend([("line", GRAY, 117, 175, 1072, "Incorrect"), ("line", BLUE, 117, 175, 1099, "Correct")], 191)
label("FCz", 45, 1131, 21)
label("ERN", 437, 1238)

xa, ya = make_axes(10, (-600, 400), (770.8, 1425.8), (-18, 12), (1262.7, 1093.3))
band(xa, ya, t_ern, ern_diff, ern_sem)
draw_frame(xa, ya, (-600, 400), xlab_ern, ylab_ernd)
line(xa, ya, t_ern, ern_diff, RED)
legend([("line", RED, 790, 847, 1082, "Incorrect minus Correct"),
        ("band", SEMC, 790, 847, 1110, "SEM")], 866)
label("FCz", 785, 1130, 21)
label("ERN", 1205, 1262)

# --- Row 6 ---
xa, ya = make_axes(11, (-200, 800), (30.7, 658.3), (-6, 9), (1477.3, 1315))
draw_frame(xa, ya, (-200, 800), xlab_std, ylab_n2pc)
line(xa, ya, t_std, n2pc_contra, GRAY)
line(xa, ya, t_std, n2pc_ipsi, BLUE)
legend([("line", GRAY, 453, 510, 1314, "Contralateral"), ("line", BLUE, 453, 510, 1344, "Ipsilateral")], 526)
label("PO7/PO8", 52, 1390, 21)
label("N2pc", 314, 1333)

xa, ya = make_axes(12, (-200, 800), (774.1, 1425.8), (-3, 2), (1512.3, 1345))
band(xa, ya, t_std, n2pc_diff, n2pc_sem)
draw_frame(xa, ya, (-200, 800), xlab_std, ylab_n2pcd)
line(xa, ya, t_std, n2pc_diff, RED)
legend([("line", RED, 1043, 1100, 1345, "Contralateral minus Ipsilateral"),
        ("band", SEMC, 1043, 1100, 1372, "SEM")], 1117)
label("PO7/PO8", 808, 1390, 21)
label("N2pc", 1072, 1497)

# --- Row 7 ---
xa, ya = make_axes(13, (-800, 200), (32, 660), (-10, 15), (1753.8, 1588.6))
draw_frame(xa, ya, (-800, 200), xlab_lrp, ylab_15)
line(xa, ya, t_lrp, lrp_contra, GRAY)
line(xa, ya, t_lrp, lrp_ipsi, BLUE)
legend([("line", GRAY, 164, 221, 1609, "Contralateral"), ("line", BLUE, 164, 221, 1638, "Ipsilateral")], 238)
label("C3/C4", 44, 1663, 21)
label("LRP", 467, 1641)

xa, ya = make_axes(14, (-800, 200), (777, 1426.7), (-4.5, 3), (1788.3, 1620.7))
band(xa, ya, t_lrp, lrp_diff, lrp_sem)
draw_frame(xa, ya, (-800, 200), xlab_lrp, ylab_lrpd, bottom_lift=4)
line(xa, ya, t_lrp, lrp_diff, RED)
legend([("line", RED, 846, 905, 1608, "Contralateral minus Ipsilateral"),
        ("band", SEMC, 846, 905, 1643, "SEM")], 926)
label("C3/C4", 798, 1662, 21)
label("LRP", 1219, 1769)

fig.update_layout(width=W, height=H, margin=dict(l=0, r=0, t=0, b=0),
                  paper_bgcolor="white", plot_bgcolor="rgba(0,0,0,0)",
                  showlegend=False, annotations=annotations, shapes=shapes,
                  font=dict(family=FONT, color=INK), **axes_layout)

fig.write_html("out.html", config={"displayModeBar": False},
               post_script="document.body.style.margin='0px';")
